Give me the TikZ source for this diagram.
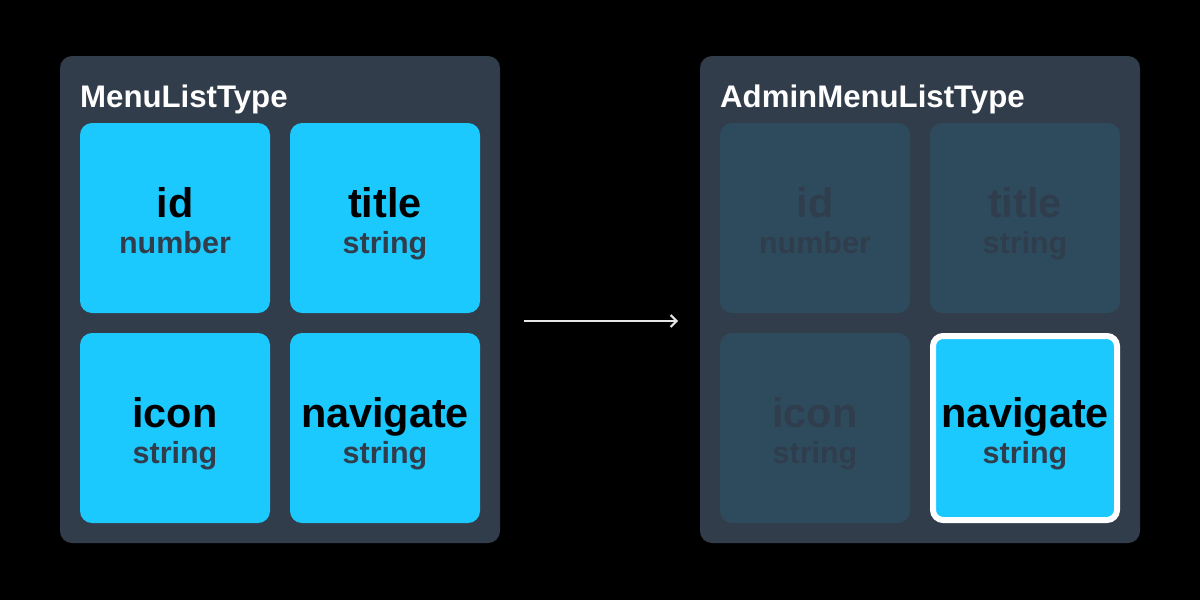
\documentclass[tikz,border=0pt]{standalone}
\usepackage{fontspec}
\setmainfont{Liberation Sans}
\usetikzlibrary{arrows.meta}
\definecolor{panelc}{HTML}{323D4B}
\definecolor{cyanc}{HTML}{1BC9FF}
\definecolor{fadec}{HTML}{2E4B5E}
\definecolor{fadetxt}{HTML}{303D4C}
\definecolor{subc}{HTML}{323D4B}
\definecolor{arrowc}{HTML}{E6E6E6}
\tikzset{
  panelbox/.style={fill=panelc, rounded corners=12pt, minimum width=440pt, minimum height=487pt, inner sep=0pt, outer sep=0pt},
  titletxt/.style={anchor=base west, text=white, font=\bfseries\fontsize{31.2}{31.2}\selectfont, inner sep=0pt},
  cell/.style={fill=cyanc, rounded corners=12pt, minimum width=190pt, minimum height=190pt, inner sep=0pt, outer sep=0pt},
  fadecell/.style={fill=fadec, rounded corners=12pt, minimum width=190pt, minimum height=190pt, inner sep=0pt, outer sep=0pt},
  hicell/.style={fill=cyanc, draw=white, line width=6pt, rounded corners=10pt, minimum width=184pt, minimum height=184pt, inner sep=0pt, outer sep=0pt},
  nametxt/.style={anchor=base, inner sep=0pt, font=\bfseries\fontsize{41.4}{41.4}\selectfont},
  typetxt/.style={anchor=base, inner sep=0pt, font=\bfseries\fontsize{30.5}{30.5}\selectfont},
}
\begin{document}
\begin{tikzpicture}[x=1pt,y=-1pt]
\fill[black] (0,0) rectangle (1200,600);
\useasboundingbox (0,0) rectangle (1200,600);
% panels
\node[panelbox] (L) at (280,299.5) {};
\node[panelbox] (R) at (920,299.5) {};
\node[titletxt] (Lt) at (80,107) {MenuListType};
\node[titletxt] (Rt) at (720,107) {AdminMenuListType};
% left cells
\node[cell] (a1) at (175,218) {};
\node[cell] (a2) at (385,218) {};
\node[cell] (a3) at (175,428) {};
\node[cell] (a4) at (385,428) {};
\foreach \c/\n/\t in {a1/id/number, a2/title/string, a3/icon/string, a4/navigate/string}{
  \node[nametxt, text=black] (\c n) at ([yshift=1pt]\c.center) {\n};
  \node[typetxt, text=subc] (\c t) at ([yshift=-35pt]\c.center) {\t};
}
% right cells
\node[fadecell] (b1) at (815,218) {};
\node[fadecell] (b2) at (1025,218) {};
\node[fadecell] (b3) at (815,428) {};
\node[hicell] (b4) at (1025,428) {};
\foreach \c/\n/\t in {b1/id/number, b2/title/string, b3/icon/string}{
  \node[nametxt, text=fadetxt] (\c n) at ([yshift=1pt]\c.center) {\n};
  \node[typetxt, text=fadetxt] (\c t) at ([yshift=-35pt]\c.center) {\t};
}
\node[nametxt, text=black] (b4n) at ([yshift=1pt]b4.center) {navigate};
\node[typetxt, text=subc] (b4t) at ([yshift=-35pt]b4.center) {string};
% arrow
\draw[arrowc, line width=2pt, shorten <=24pt, shorten >=22pt, -{Straight Barb[length=6pt,width=12pt]}] ([yshift=-21.5pt]L.east) -- ([yshift=-21.5pt]R.west);
\end{tikzpicture}
\end{document}
